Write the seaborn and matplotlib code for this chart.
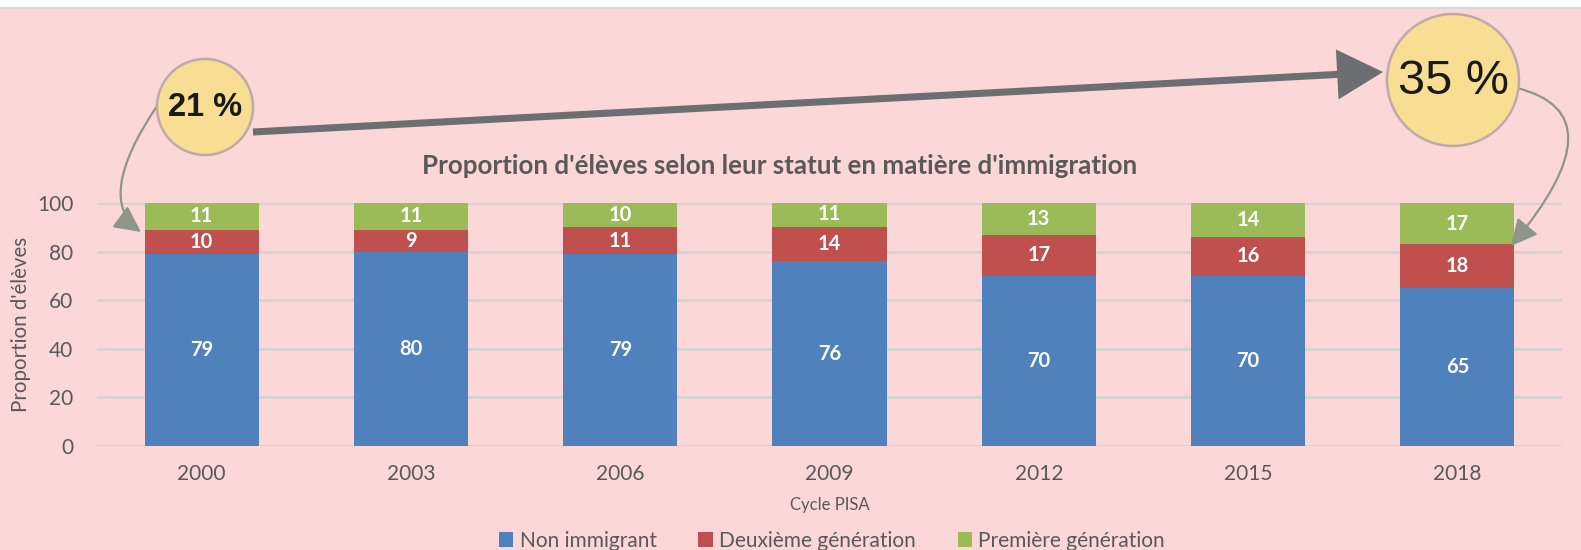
import numpy as np
import pandas as pd
import matplotlib
matplotlib.use("Agg")
import matplotlib.pyplot as plt
import seaborn as sns
from matplotlib.patches import Patch, Circle, FancyArrowPatch, Rectangle

# --------------------------- DATA ---------------------------
years = ['2000', '2003', '2006', '2009', '2012', '2015', '2018']
non_immigrant = [79, 80, 79, 76, 70, 70, 65]
deuxieme_gen = [10, 9, 11, 14, 17, 16, 18]
premiere_gen = [11, 11, 10, 11, 13, 14, 17]
series_names = ['Non immigrant', 'Deuxième génération', 'Première génération']

# --------------------------- SETTINGS ---------------------------
sns.set_style("white")
plt.rcParams['font.family'] = ['Lato', 'DejaVu Sans']

bg = '#FBD7D7'
blue, red, green = '#4F81BD', '#C0504D', '#9BBB59'
txt = '#595959'
W, H = 1581, 550

df = pd.DataFrame({'year': years, 'blue': non_immigrant,
                   'red': deuxieme_gen, 'green': premiere_gen})
df['top_red'] = df['blue'] + df['red']
df['top_green'] = df['top_red'] + df['green']

fig = plt.figure(figsize=(W / 100, H / 100), dpi=100, facecolor=bg)
ax = fig.add_axes([97 / W, 1 - 446 / H, (1562 - 97) / W, (446 - 203) / H])
ax.set_facecolor('none')

# stacked bars: draw cumulative totals from the back
for col, c in [('top_green', green), ('top_red', red), ('blue', blue)]:
    sns.barplot(data=df, x='year', y=col, order=years, color=c,
                width=0.545, saturation=1, linewidth=0, ax=ax, zorder=3)

for i, row in df.iterrows():
    for mid, v in [(row['blue'] / 2, row['blue']),
                   (row['blue'] + row['red'] / 2, row['red']),
                   (row['top_red'] + row['green'] / 2, row['green'])]:
        ax.text(i, mid, f"{v}", ha='center', va='center', color='white',
                fontsize=14.5, fontweight='bold', zorder=5)

ax.set_xlim(-0.5, len(years) - 0.5)
ax.set_ylim(0, 100)
ax.set_yticks(range(0, 101, 20))
ax.yaxis.grid(True, color='#D3D3D3', linewidth=2)
ax.set_axisbelow(True)
for s in ax.spines.values():
    s.set_visible(False)
ax.tick_params(axis='both', length=0, labelsize=15, labelcolor=txt)
ax.tick_params(axis='x', pad=13)
ax.tick_params(axis='y', pad=17)
ax.set_xlabel('Cycle PISA', fontsize=12, color=txt, labelpad=9)
ax.set_ylabel("Proportion d'élèves", fontsize=14.8, color=txt, labelpad=4)

fig.text(780 / W, 1 - 166 / H,
         "Proportion d'élèves selon leur statut en matière d'immigration",
         ha='center', va='center', fontsize=18.6, fontweight='bold', color=txt)

handles = [Patch(facecolor=c, edgecolor='none') for c in (blue, red, green)]
fig.legend(handles, series_names, loc='center', ncol=3, frameon=False,
           bbox_to_anchor=(832 / W, 1 - 541 / H), fontsize=15,
           handlelength=0.7, handleheight=0.7, handletextpad=0.3,
           columnspacing=2.0, labelcolor=txt)

# --------------------------- ANNOTATIONS (pixel overlay) ---------------------------
ov = fig.add_axes([0, 0, 1, 1], zorder=10)
ov.set_xlim(0, W)
ov.set_ylim(H, 0)
ov.axis('off')
ov.patch.set_visible(False)

ov.add_patch(Rectangle((0, 0), W, 7, facecolor='white', edgecolor='none'))
ov.plot([0, W], [8, 8], color='#D9D9D9', linewidth=1.5)

ov.add_patch(FancyArrowPatch((253, 132), (1383, 72),
                             arrowstyle='simple,head_length=1.1,head_width=1.2,tail_width=0.17',
                             mutation_scale=30, facecolor='#6D6E71', edgecolor='none',
                             shrinkA=0, shrinkB=0))
ov.add_patch(FancyArrowPatch((157, 106), (141, 232), connectionstyle='angle3,angleA=-124,angleB=-36',
                             arrowstyle='-|>,head_length=0.9,head_width=0.45', mutation_scale=18,
                             color='#8E958A', linewidth=1.6, shrinkA=0, shrinkB=0))
ov.add_patch(FancyArrowPatch((1517, 88), (1511, 246), connectionstyle='angle3,angleA=-14,angleB=-130',
                             arrowstyle='-|>,head_length=0.9,head_width=0.45', mutation_scale=18,
                             color='#8E958A', linewidth=1.6, shrinkA=0, shrinkB=0))

for (cx, cy, r, val, fs, fw) in [(205, 107, 48, 100 - non_immigrant[0], 23.5, 'bold'),
                                  (1453, 80, 66, 100 - non_immigrant[-1], 35, 'normal')]:
    ov.add_patch(Circle((cx, cy), r, facecolor='#F8DE93', edgecolor='#BFAAAA',
                        linewidth=1.8, zorder=4))
    ov.text(cx, cy + 1, f"{val} %", ha='center', va='center', fontsize=fs,
            fontweight=fw, color='#1A1A1A', family='Liberation Sans', zorder=5)

fig.savefig('out.png', dpi=100, facecolor=bg)
